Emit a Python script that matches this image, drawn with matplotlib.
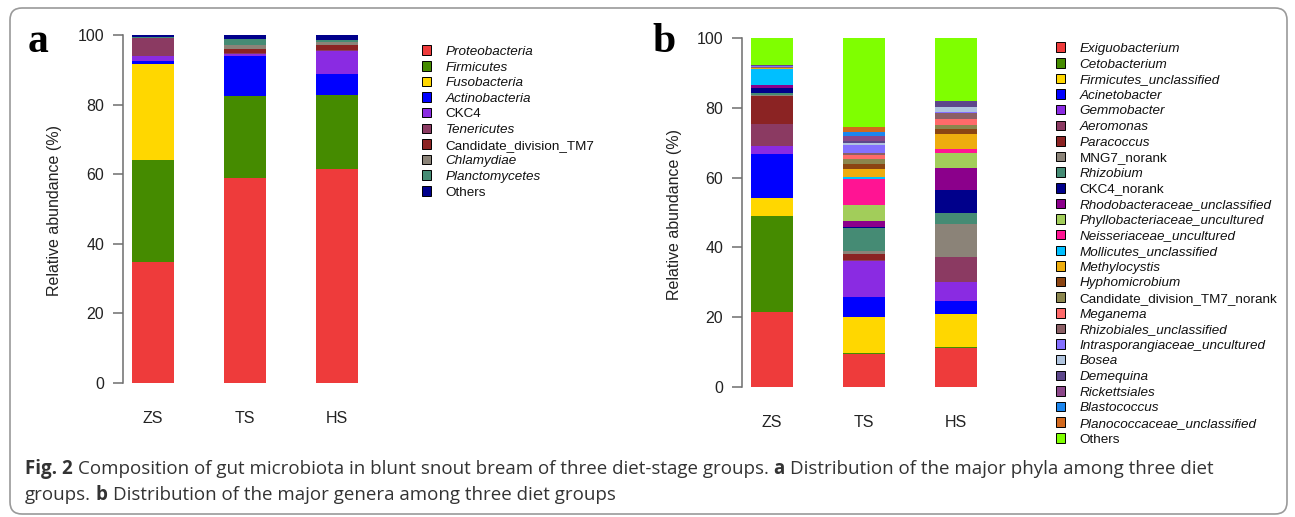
import numpy as np
import matplotlib
matplotlib.use("Agg")
import matplotlib.pyplot as plt
from matplotlib.patches import Patch, FancyBboxPatch

# ---- data (relative abundance, %) ----
groups = ["ZS", "TS", "HS"]

phyla = ["Proteobacteria", "Firmicutes", "Fusobacteria", "Actinobacteria", "CKC4",
         "Tenericutes", "Candidate_division_TM7", "Chlamydiae", "Planctomycetes", "Others"]
phyla_italic = [True, True, True, True, False, True, False, True, True, False]
phyla_colors = ["#EE3B3B", "#458B00", "#FFD700", "#0000FF", "#8A2BE2",
                "#8B3A62", "#8B2323", "#8B8378", "#458B74", "#00008B"]
zs_phyla = [34.7, 29.4, 27.5, 0.9, 1.4, 5.1, 0.1, 0.1, 0.1, 0.7]
ts_phyla = [58.8, 23.6, 0.0, 11.7, 0.3, 0.4, 1.2, 1.1, 1.7, 1.2]
hs_phyla = [61.5, 21.4, 0.0, 5.8, 6.7, 0.2, 1.5, 0.8, 0.6, 1.5]

genera = ["Exiguobacterium", "Cetobacterium", "Firmicutes_unclassified", "Acinetobacter",
          "Gemmobacter", "Aeromonas", "Paracoccus", "MNG7_norank", "Rhizobium", "CKC4_norank",
          "Rhodobacteraceae_unclassified", "Phyllobacteriaceae_uncultured",
          "Neisseriaceae_uncultured", "Mollicutes_unclassified", "Methylocystis",
          "Hyphomicrobium", "Candidate_division_TM7_norank", "Meganema",
          "Rhizobiales_unclassified", "Intrasporangiaceae_uncultured", "Bosea", "Demequina",
          "Rickettsiales", "Blastococcus", "Planococcaceae_unclassified", "Others"]
genera_plain = ["MNG7_norank", "CKC4_norank", "Candidate_division_TM7_norank", "Others"]
genera_colors = ["#EE3B3B", "#458B00", "#FFD700", "#0000FF", "#8A2BE2", "#8B3A62", "#8B2323",
                 "#8B8378", "#458B74", "#00008B", "#8B008B", "#A2CD5A", "#FF1493", "#00BFFF",
                 "#EEAD0E", "#8B4513", "#8B864E", "#FF6A6A", "#8B5F65", "#8470FF", "#B0C4DE",
                 "#5D478B", "#8B4789", "#1C86EE", "#D2691E", "#7FFF00"]
zs_genera = [21.4, 27.5, 5.2, 12.8, 2.1, 6.3, 8.1, 0.3, 0.4, 1.6, 0.7, 0.1, 0.1, 4.6, 0.1,
             0.0, 0.1, 0.1, 0.3, 0.2, 0.1, 0.1, 0.1, 0.1, 0.0, 7.6]
ts_genera = [9.4, 0.3, 10.4, 5.8, 10.1, 0.4, 1.6, 1.0, 6.5, 0.3, 1.8, 4.6, 7.5, 0.5, 2.4,
             1.4, 1.2, 1.2, 0.7, 2.1, 0.8, 0.4, 1.5, 1.3, 1.2, 25.6]
hs_genera = [11.2, 0.2, 9.4, 3.8, 5.6, 7.0, 0.0, 9.5, 3.1, 6.6, 6.4, 4.3, 1.1, 0.0, 4.2,
             1.4, 1.4, 1.5, 1.9, 0.1, 1.4, 1.9, 0.0, 0.0, 0.0, 18.0]

W, H = 1295, 517
fig = plt.figure(figsize=(W / 100, H / 100), dpi=100)
plt.rcParams['font.family'] = ['Liberation Sans', 'DejaVu Sans']

# rounded frame around the whole figure
fig.add_artist(FancyBboxPatch((10 / 100, (H - 514) / 100), 1277 / 100, 506 / 100,
                              boxstyle="round,pad=0,rounding_size=0.12",
                              transform=fig.dpi_scale_trans, facecolor="none",
                              edgecolor="#9a9a9a", linewidth=1.2))


def make_axes(left, right, top, bottom):
    return fig.add_axes([left / W, 1 - bottom / H, (right - left) / W, (bottom - top) / H])


def stacked_panel(ax, data, colors, x_lim):
    x = np.arange(len(groups))
    base = np.zeros(len(groups))
    for i, c in enumerate(colors):
        vals = np.array([d[i] for d in data])
        ax.bar(x, vals, width=0.453, bottom=base, color=c, linewidth=0)
        base += vals
    ax.set_ylim(0, 100)
    ax.set_xlim(*x_lim)
    for s in ["top", "right", "bottom"]:
        ax.spines[s].set_visible(False)
    ax.spines["left"].set_bounds(0, 100)
    ax.spines["left"].set_color("#6e6e6e")
    ax.spines["left"].set_linewidth(1.1)
    ax.set_yticks(range(0, 101, 20))
    ax.set_xticks(x)
    ax.set_xticklabels(groups)
    ax.tick_params(axis="y", length=7.2, width=1.1, color="#6e6e6e", pad=6,
                   labelsize=11.5, labelcolor="#222222")
    ax.tick_params(axis="x", length=0, pad=20.5, labelsize=11.5, labelcolor="#222222")


# panel a
ax_a = make_axes(122.7, 400, 35, 383)
stacked_panel(ax_a, [zs_phyla, ts_phyla, hs_phyla], phyla_colors, (-0.329, 2.685))
fig.text(55 / W, 1 - 211 / H, "Relative abundance (%)", rotation=90, ha="center",
         va="center", fontsize=11.5, color="#222222")

# panel b
ax_b = make_axes(741.7, 1000, 38, 387)
stacked_panel(ax_b, [zs_genera, ts_genera, hs_genera], genera_colors, (-0.33, 2.478))
fig.text(674 / W, 1 - 214 / H, "Relative abundance (%)", rotation=90, ha="center",
         va="center", fontsize=11.5, color="#222222")

# panel letters
fig.text(28 / W, 1 - 52 / H, "a", family="Liberation Serif", fontweight="bold",
         fontsize=30, va="baseline")
fig.text(652 / W, 1 - 52 / H, "b", family="Liberation Serif", fontweight="bold",
         fontsize=30, va="baseline")


def legend_at(names, colors, italic, x_px, top_px):
    handles = [Patch(facecolor=c, edgecolor="black", linewidth=0.7) for c in colors]
    leg = fig.legend(handles, names, loc="upper left",
                     bbox_to_anchor=(x_px / W, 1 - top_px / H), frameon=False,
                     fontsize=9.7, handlelength=0.7, handleheight=0.7,
                     handletextpad=1.05, labelspacing=0.237, borderpad=0, borderaxespad=0)
    for t, it in zip(leg.get_texts(), italic):
        t.set_fontstyle("italic" if it else "normal")
        t.set_color("#111111")
    return leg


legend_at(phyla, phyla_colors, phyla_italic, 422, 45.5)
legend_at(genera, genera_colors, [g not in genera_plain for g in genera], 1056, 42.5)

# caption with bold pieces
renderer = fig.canvas.get_renderer()
cap_kw = dict(family=["Open Sans", "DejaVu Sans"], fontsize=13.5, color="#333333", va="center")


def text_width(s, bold=False):
    t = fig.text(0, 0, s, fontweight="bold" if bold else "normal", **cap_kw)
    w = t.get_window_extent(renderer).width
    t.remove()
    return w


space = text_width("n n") - text_width("nn")


def caption_line(y_px, pieces):
    x = 25.0
    for s, bold in pieces:
        t = fig.text(x / W, 1 - y_px / H, s, fontweight="bold" if bold else "normal", **cap_kw)
        x += t.get_window_extent(renderer).width + space


caption_line(469, [("Fig. 2", True),
                   ("Composition of gut microbiota in blunt snout bream of three diet-stage groups.", False),
                   ("a", True),
                   ("Distribution of the major phyla among three diet", False)])
caption_line(495, [("groups.", False), ("b", True),
                   ("Distribution of the major genera among three diet groups", False)])

fig.savefig("out.png", dpi=100)
